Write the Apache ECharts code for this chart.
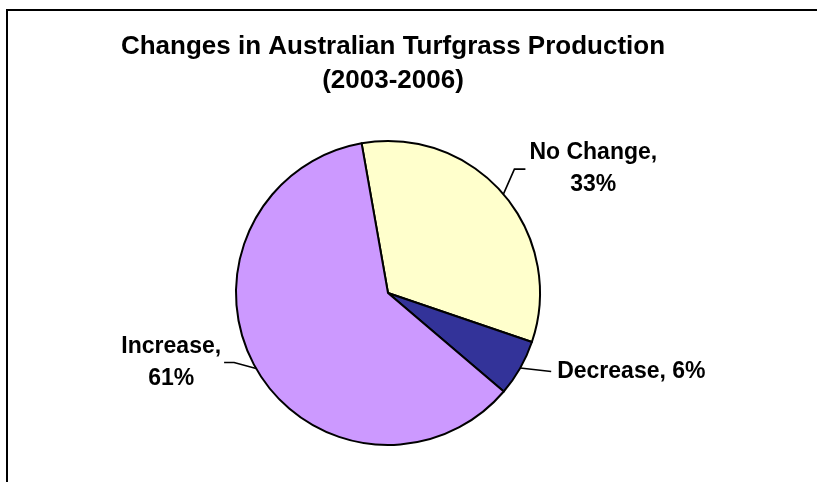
<!DOCTYPE html>
<html>
<head>
<meta charset="utf-8">
<script src="https://cdn.jsdelivr.net/npm/echarts@6/dist/echarts.min.js"></script>
<style>
  html, body { margin: 0; padding: 0; background: #fff; }
  #chart { width: 817px; height: 482px; }
</style>
</head>
<body>
<div id="chart"></div>
<script>
// Production change categories and their shares (%)
const categories = ['No Change', 'Decrease', 'Increase'];
const shares = [33, 6, 61];
const sliceColors = ['#FFFFCC', '#333399', '#CC99FF'];
// Whether the percentage goes on its own line under the name
const twoLineLabel = [true, false, true];
// Leader line shape per slice: [bend dx, bend dy, horizontal run, gap to text]
const leaderShape = [
  [11, -25, 11, 4],
  [31, 3.5, 0, 6],
  [-22, -6, -10, 3]
];

const titleText = 'Changes in Australian Turfgrass Production\n(2003-2006)';
const FONT = '"Liberation Sans", Arial, Helvetica, sans-serif';

const chart = echarts.init(document.getElementById('chart'), null, { renderer: 'canvas' });

const data = categories.map((name, i) => ({
  name: name,
  value: shares[i],
  itemStyle: { color: sliceColors[i] }
}));

chart.setOption({
  animation: false,
  backgroundColor: '#ffffff',
  title: {
    text: titleText,
    left: 393,
    top: 30,
    padding: 0,
    textAlign: 'center',
    textStyle: {
      fontFamily: FONT,
      fontSize: 26,
      fontWeight: 'bold',
      color: '#000',
      lineHeight: 34
    }
  },
  graphic: [{
    type: 'rect',
    shape: { x: 7, y: 10, width: 830, height: 500 },
    style: { fill: 'none', stroke: '#000', lineWidth: 2 },
    silent: true
  }],
  series: [{
    type: 'pie',
    center: [388, 293],
    radius: 152,
    startAngle: 100,
    clockwise: true,
    avoidLabelOverlap: false,
    data: data,
    itemStyle: { borderColor: '#000', borderWidth: 2 },
    emphasis: { disabled: true },
    label: {
      show: true,
      position: 'outside',
      formatter: function (p) {
        return twoLineLabel[p.dataIndex]
          ? '{t|' + p.name + ',}\n{t|' + p.value + '%}'
          : '{t|' + p.name + ', ' + p.value + '%}';
      },
      rich: {
        t: {
          fontFamily: FONT,
          fontSize: 23,
          fontWeight: 'bold',
          color: '#000',
          lineHeight: 32,
          align: 'center'
        }
      }
    },
    labelLine: {
      show: true,
      smooth: false,
      lineStyle: { color: '#000', width: 1.6 }
    },
    labelLayout: function (params) {
      const s = leaderShape[params.dataIndex];
      const a = params.labelLinePoints[0];
      const b = [a[0] + s[0], a[1] + s[1]];
      const c = [b[0] + s[2], b[1]];
      const toRight = s[0] > 0;
      return {
        x: c[0] + (toRight ? s[3] : -s[3]),
        y: c[1],
        align: toRight ? 'left' : 'right',
        verticalAlign: 'middle',
        labelLinePoints: [a, b, c]
      };
    }
  }]
});
</script>
</body>
</html>
